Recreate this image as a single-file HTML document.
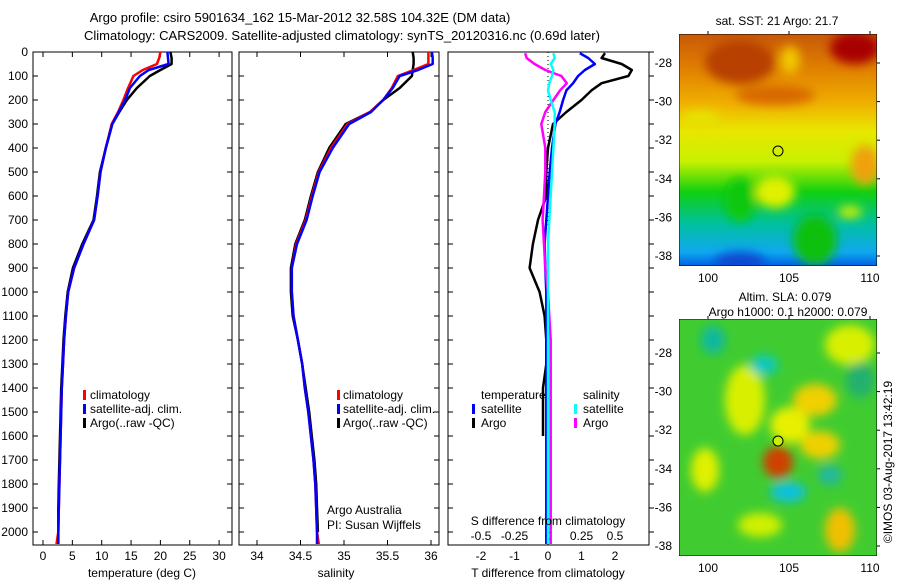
<!DOCTYPE html>
<html><head><meta charset="utf-8"><style>
body{margin:0;background:#fff}
svg{display:block;font-family:"Liberation Sans",sans-serif}
text{fill:#000}
</style></head><body>
<svg id="fig" width="900" height="580" viewBox="0 0 900 580">
<defs>
<filter id="bl" x="-20%" y="-20%" width="140%" height="140%"><feGaussianBlur stdDeviation="5"/></filter>
<clipPath id="c1"><rect x="679" y="34" width="198" height="232"/></clipPath>
<clipPath id="c2"><rect x="679" y="319" width="198" height="237"/></clipPath>
<linearGradient id="sstg" x1="0" y1="0" x2="0" y2="1">
<stop offset="0" stop-color="#c85808"/><stop offset="0.15" stop-color="#e08000"/>
<stop offset="0.3" stop-color="#f0b000"/><stop offset="0.42" stop-color="#e8e800"/>
<stop offset="0.55" stop-color="#c8f000"/><stop offset="0.68" stop-color="#10d010"/>
<stop offset="0.82" stop-color="#00c0a0"/><stop offset="0.94" stop-color="#10a8f0"/>
<stop offset="1" stop-color="#0060e0"/></linearGradient>
</defs>
<text x="300" y="22" font-size="13" text-anchor="middle">Argo profile: csiro 5901634_162 15-Mar-2012 32.58S 104.32E (DM data)</text>
<text x="342" y="40" font-size="13" text-anchor="middle">Climatology: CARS2009. Satellite-adjusted climatology: synTS_20120316.nc (0.69d later)</text>
<g id="axes"></g>
<g id="marks"></g>
<g font-size="12">
<rect x="83" y="390" width="3" height="10" fill="#f00"/><text x="90" y="399">climatology</text>
<rect x="83" y="404" width="3" height="10" fill="#00f"/><text x="90" y="413">satellite-adj. clim.</text>
<rect x="83" y="418" width="3" height="10" fill="#000"/><text x="90" y="427">Argo(..raw -QC)</text></g>
<g font-size="12">
<rect x="337" y="390" width="3" height="10" fill="#f00"/><text x="343" y="399">climatology</text>
<rect x="337" y="404" width="3" height="10" fill="#00f"/><text x="343" y="413">satellite-adj. clim.</text>
<rect x="337" y="418" width="3" height="10" fill="#000"/><text x="343" y="427">Argo(..raw -QC)</text></g>
<g font-size="12">
<text x="481" y="399">temperature</text><text x="583" y="399">salinity</text>
<rect x="472" y="404" width="3" height="10" fill="#00f"/><text x="481" y="413">satellite</text>
<rect x="472" y="418" width="3" height="10" fill="#000"/><text x="481" y="427">Argo</text>
<rect x="574" y="404" width="3" height="10" fill="#0ff"/><text x="583" y="413">satellite</text>
<rect x="574" y="418" width="3" height="10" fill="#f0f"/><text x="583" y="427">Argo</text></g>
<text x="327" y="514" font-size="12">Argo Australia</text>
<text x="327" y="529" font-size="12">PI: Susan Wijffels</text>
<text x="548" y="525" font-size="12" text-anchor="middle">S difference from climatology</text>
<text x="142" y="577" font-size="12" text-anchor="middle">temperature (deg C)</text>
<text x="336" y="577" font-size="12" text-anchor="middle">salinity</text>
<text x="548" y="577" font-size="12" text-anchor="middle">T difference from climatology</text>

<g clip-path="url(#c1)">
<rect x="679" y="34" width="198" height="232" fill="url(#sstg)"/>
<g filter="url(#bl)">
<ellipse cx="855" cy="48" rx="25" ry="16" fill="#a80000"/>
<ellipse cx="740" cy="62" rx="35" ry="22" fill="#b84000"/>
<ellipse cx="790" cy="60" rx="10" ry="14" fill="#f0c800"/>
<ellipse cx="775" cy="95" rx="40" ry="10" fill="#d86800"/>
<ellipse cx="700" cy="120" rx="20" ry="10" fill="#e8e000"/>
<ellipse cx="740" cy="200" rx="15" ry="22" fill="#10c810"/>
<ellipse cx="775" cy="192" rx="20" ry="16" fill="#e0f000"/>
<ellipse cx="865" cy="165" rx="14" ry="20" fill="#f0a010"/>
<ellipse cx="850" cy="212" rx="12" ry="6" fill="#d0f000"/>
<ellipse cx="815" cy="240" rx="22" ry="25" fill="#10c010"/>
<ellipse cx="740" cy="262" rx="25" ry="10" fill="#0848d0"/>
</g>
<rect x="679" y="34" width="198" height="232" fill="none" stroke="#000"/>
</g>
<g clip-path="url(#c2)">
<rect x="679" y="319" width="198" height="237" fill="#40cc30"/>
<g filter="url(#bl)">
<ellipse cx="745" cy="400" rx="20" ry="35" fill="#d8f000"/>
<ellipse cx="790" cy="425" rx="20" ry="18" fill="#e8f000"/>
<ellipse cx="815" cy="400" rx="22" ry="16" fill="#f0d000"/>
<ellipse cx="850" cy="345" rx="25" ry="20" fill="#d8f000"/>
<ellipse cx="820" cy="445" rx="20" ry="14" fill="#f0d000"/>
<ellipse cx="778" cy="462" rx="15" ry="16" fill="#d04000"/>
<ellipse cx="713" cy="340" rx="12" ry="14" fill="#10b8a0"/>
<ellipse cx="764" cy="365" rx="14" ry="10" fill="#10c8c0"/>
<ellipse cx="788" cy="492" rx="18" ry="10" fill="#10c0e0"/>
<ellipse cx="830" cy="475" rx="12" ry="10" fill="#20b8a0"/>
<ellipse cx="840" cy="530" rx="15" ry="22" fill="#f0c000"/>
<ellipse cx="705" cy="470" rx="14" ry="22" fill="#e0f000"/>
<ellipse cx="760" cy="525" rx="22" ry="12" fill="#d0f000"/>
<ellipse cx="860" cy="380" rx="14" ry="18" fill="#20b070"/>
</g>
<rect x="679" y="319" width="198" height="237" fill="none" stroke="#000"/>
</g>
<text x="777" y="25" font-size="12" text-anchor="middle">sat. SST: 21 Argo: 21.7</text>
<text x="785" y="301" font-size="12" text-anchor="middle">Altim. SLA: 0.079</text>
<text x="788" y="316" font-size="12" text-anchor="middle">Argo h1000: 0.1 h2000: 0.079</text>
<text transform="translate(892,462) rotate(-90)" font-size="12" text-anchor="middle">©IMOS 03-Aug-2017 13:42:19</text>
<circle cx="778" cy="151" r="5" fill="none" stroke="#000"/>
<circle cx="778" cy="441" r="5" fill="#c8f000" stroke="#000"/>
<g id="mapaxes"></g>
</svg>
<script>
const depths=[0,25,50,75,100,150,200,250,300,400,500,600,700,800,900,1000,1100,1200,1300,1400,1500,1600,1700,1800,1900,2000,2050];
const tempClim=[20.0,19.8,19.4,17,15.4,14.5,13.7,12.8,11.7,10.7,9.8,9.3,8.7,6.9,5.3,4.3,3.9,3.6,3.4,3.2,3.1,3.0,2.9,2.8,2.7,2.6,2.3];
const tempSat=[21.2,21.3,21.4,18,16.5,14.8,14.0,12.9,11.8,10.7,9.8,9.3,8.7,6.9,5.3,4.3,3.9,3.6,3.4,3.2,3.1,3.0,2.9,2.8,2.7,2.6,2.6];
const tempArgo=[21.7,21.9,21.9,20,18.2,16.0,14.3,13.0,11.8,10.7,9.7,9.2,8.6,6.7,5.1,4.2,3.8,3.5,3.3,3.1,3.0,2.9,2.8,2.7,2.6,2.6,2.6];
const salClim=[35.97,35.97,35.97,35.8,35.62,35.55,35.45,35.3,35.04,34.85,34.71,34.63,34.56,34.45,34.40,34.40,34.42,34.47,34.52,34.55,34.59,34.62,34.65,34.67,34.68,34.69,34.71];
const salSat=[36.01,36.02,36.02,35.85,35.64,35.56,35.45,35.31,35.06,34.87,34.72,34.64,34.57,34.46,34.40,34.40,34.42,34.47,34.52,34.55,34.59,34.62,34.65,34.67,34.68,34.69,34.69];
const salArgo=[35.79,35.80,35.80,35.79,35.78,35.64,35.45,35.3,35.02,34.83,34.70,34.62,34.55,34.44,34.39,34.39,34.41,34.47,34.52,34.56,34.60,34.63,34.66,34.68,34.69,34.70,null];
const diffDepths=[5,25,50,75,100,130,160,200,250,300,400,500,600,700,800,900,1000,1100,1200,1300,1400,1500,1600,1700,1800,1900,2000,2050];
const tDiffSat=[0.95,1.2,1.4,1.1,0.9,0.75,0.55,0.45,0.35,0.22,0.12,0.05,0.0,-0.05,-0.1,-0.08,-0.05,-0.05,-0.05,-0.05,-0.05,-0.05,-0.05,-0.05,-0.05,-0.05,-0.05,-0.05];
const tDiffArgo=[1.7,1.6,2.2,2.5,2.4,1.6,1.3,1.0,0.55,0.15,0.0,-0.05,-0.05,-0.3,-0.45,-0.55,-0.25,-0.1,-0.05,-0.05,-0.15,-0.15,-0.15,null,null,null,null,null];
const sDiffSat=[0.04,0.05,0.02,0.04,0.03,0.01,0.0,0.02,0.05,0.05,0.04,0.03,0.02,0.01,0.0,0.0,0.0,0.0,0.0,0.0,0.0,0.0,0.0,0.0,0.0,0.0,0.0,0.0];
const sDiffArgo=[-0.17,-0.16,-0.1,-0.02,0.1,0.14,0.09,0.04,-0.02,-0.05,-0.02,-0.02,-0.03,-0.04,-0.03,-0.02,0.0,0.01,0.02,0.02,0.02,0.02,0.02,0.02,0.02,0.02,0.02,0.02];
const depthTicks=[0,100,200,300,400,500,600,700,800,900,1000,1100,1200,1300,1400,1500,1600,1700,1800,1900,2000];
const tempTicks=[0,5,10,15,20,25,30];
const salTicks=[34,34.5,35,35.5,36];
const salTickLabels=["34","34.5","35","35.5","36"];
const tDiffTicks=[-2,-1,0,1,2];
const sDiffTicks=[-0.5,-0.25,0,0.25,0.5];
const sDiffTickLabels=["-0.5","-0.25","0","0.25","0.5"];
const lonTicks=[100,105,110];
const latTicks=[-28,-30,-32,-34,-36,-38];

const NS="http://www.w3.org/2000/svg";
const yD=d=>52+d*0.24;
const xT=t=>43+t*5.87;
const xS=s=>257+(s-34)*87;
const xTD=t=>548+t*33.5;
const xSD=s=>548+s*134;
const xLon=l=>708+(l-100)*16.2;
const yLat1=l=>63+(-28-l)*19.3;
const yLat2=l=>353+(-28-l)*19.3;
const axes=document.getElementById('axes');
const marks=document.getElementById('marks');
const mapaxes=document.getElementById('mapaxes');
function mk(tag,attrs,parent){const e=document.createElementNS(NS,tag);for(const k in attrs)e.setAttribute(k,attrs[k]);parent.appendChild(e);return e;}
function txt(x,y,s,anchor,parent){const e=mk('text',{x:x,y:y,'font-size':12,'text-anchor':anchor},parent);e.textContent=s;return e;}

const panels=[[33,232],[239,439],[448,649]];
panels.forEach((p,i)=>{
  const r=mk('rect',{x:p[0],y:52,width:p[1]-p[0],height:493,fill:'none',stroke:'#000'},axes);
  
  
  depthTicks.forEach(d=>{
    const y=yD(d);
    const a=mk('line',{x1:p[0],x2:p[0]+5,y1:y,y2:y,stroke:'#000'},axes);
    
    
    const b=mk('line',{x1:p[1],x2:p[1]+(i==2?5:-5),y1:y,y2:y,stroke:'#000'},axes);
    
    
  });
});
depthTicks.forEach(d=>{
  const t=txt(28,yD(d)+4,String(d),'end',axes);
  
  
});
function xticks(vals,labels,fx,ly){
  vals.forEach((v,i)=>{
    const x=fx(v);
    const a=mk('line',{x1:x,x2:x,y1:52,y2:57,stroke:'#000'},axes);
    
    
    const b=mk('line',{x1:x,x2:x,y1:545,y2:540,stroke:'#000'},axes);
    
    
    const t=txt(x,ly,labels[i],'middle',axes);
    
    
  });
}
xticks(tempTicks,tempTicks.map(String),xT,560);
xticks(salTicks,salTickLabels,xS,560);
tDiffTicks.forEach(v=>{
  const t=txt(xTD(v),560,String(v),'middle',axes);
  
  
});
sDiffTicks.forEach((v,i)=>{
  const t=txt(xSD(v),540,sDiffTickLabels[i],'middle',axes);
  
  
});
const zl=mk('line',{x1:548,x2:548,y1:52,y2:545,stroke:'#000','stroke-dasharray':'1,3'},axes);



function series(vals,ds,fx,color,name){
  let d='';let pen=false;
  vals.forEach((v,i)=>{
    if(v===null){pen=false;return;}
    d+=(pen?'L':'M')+fx(v).toFixed(1)+' '+yD(ds[i]).toFixed(1)+' ';pen=true;
  });
  const p=mk('path',{d:d,fill:'none',stroke:color,'stroke-width':2.5,'stroke-linejoin':'round'},marks);
  
  
}
series(tempArgo,depths,xT,'#000','temperature-argo-line');
series(tempClim,depths,xT,'#f00','temperature-climatology-line');
series(tempSat,depths,xT,'#00f','temperature-satellite-line');
series(salArgo,depths,xS,'#000','salinity-argo-line');
series(salClim,depths,xS,'#f00','salinity-climatology-line');
series(salSat,depths,xS,'#00f','salinity-satellite-line');
series(tDiffArgo,diffDepths,xTD,'#000','t-diff-argo-line');
series(tDiffSat,diffDepths,xTD,'#00f','t-diff-satellite-line');
series(sDiffArgo,diffDepths,xSD,'#f0f','s-diff-argo-line');
series(sDiffSat,diffDepths,xSD,'#0ff','s-diff-satellite-line');

[[yLat1,34,266,282],[yLat2,319,556,572]].forEach(m=>{
  latTicks.forEach(l=>{
    const t=txt(672,m[0](l)+4,String(l),'end',mapaxes);
    
    
    const a=mk('line',{x1:877,x2:880,y1:m[0](l),y2:m[0](l),stroke:'#000'},mapaxes);
    
    
  });
  lonTicks.forEach(l=>{
    const t=txt(xLon(l),m[3],String(l),'middle',mapaxes);
    
    
    const a=mk('line',{x1:xLon(l),x2:xLon(l),y1:m[1],y2:m[1]-3,stroke:'#000'},mapaxes);
    
    
  });
});
</script>
</body></html>
